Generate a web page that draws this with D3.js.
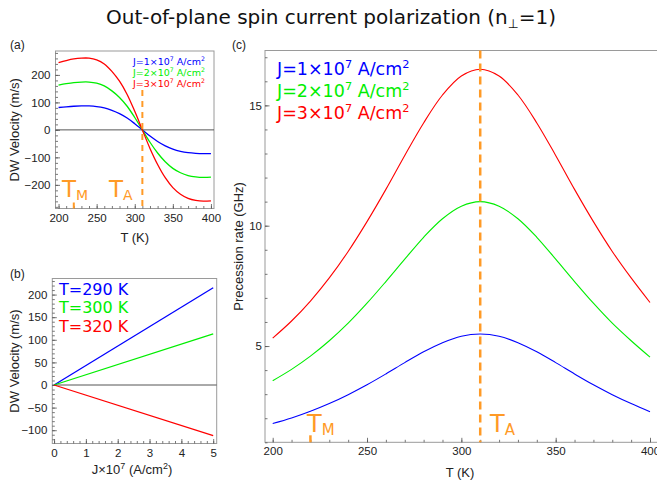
<!DOCTYPE html>
<html><head><meta charset="utf-8">
<script src="https://cdn.jsdelivr.net/npm/d3@7"></script>
<style>body{margin:0;background:#fff}svg{display:block}</style>
</head><body>
<script>
// ---------- data ----------
const temps = [200,210,220,230,240,250,260,270,280,290,300,310,320,330,340,350,360,370,380,390,400];
const velJ1 = [81.5,84,86,87,87,85,80,71,59,43,22.5,0,-22.5,-42,-58,-70,-78,-83,-85.5,-86.5,-86];
const velJ2 = [163,168,172,174,174,170,160,142,118,86,45,0,-45,-84,-116,-140,-156,-166,-171,-173,-172];
const velJ3 = [244.5,252,258,261,261,255,240,213,177,129,67.5,0,-67.5,-126,-174,-210,-234,-249,-256.5,-259.5,-258];
const currents = [0,5];
const vel290 = [0,215];
const vel300 = [0,113];
const vel320 = [0,-112];
const precJ1 = [1.78,2.01,2.29,2.61,2.98,3.39,3.84,4.31,4.76,5.14,5.41,5.50,5.41,5.14,4.76,4.31,3.84,3.39,2.98,2.61,2.27];
const precJ2 = [3.56,4.03,4.58,5.22,5.95,6.78,7.68,8.61,9.52,10.29,10.81,11.00,10.81,10.29,9.52,8.61,7.68,6.78,5.95,5.22,4.54];
const precJ3 = [5.33,6.04,6.87,7.83,8.93,10.17,11.51,12.92,14.27,15.43,16.22,16.50,16.22,15.43,14.27,12.92,11.51,10.17,8.93,7.83,6.81];
const tempTicks = [200,250,300,350,400];
const velTicksA = [-200,-100,0,100,200];
const velTicksB = [-100,-50,0,50,100,150,200];
const currentTicks = [0,1,2,3,4,5];
const precTicks = [5,10,15];
const T_M = 220, T_A = 310;
const legendJ = ["1","2","3"];
const legendT = ["290","300","320"];
const seriesColors = ["#0000ff","#00ee00","#ff0000"];

// ---------- styles ----------
const ORANGE = "#ff9a26";
const FRAME = "#9a9a9a";
const TICKFONT = "'Liberation Sans', Arial, sans-serif";
const VFONT = "'DejaVu Sans', Verdana, sans-serif";

const svg = d3.select("body").append("svg").attr("width",657).attr("height",485);

// title
const title = svg.append("text").attr("x",331).attr("y",24).attr("text-anchor","middle")
  .attr("font-family",VFONT).attr("font-size",20).attr("fill","#111");
title.append("tspan").text("Out-of-plane spin current polarization (n");
title.append("tspan").attr("font-size",12.5).attr("dy",4).text("⊥");
title.append("tspan").attr("dy",-4).text("=1)");

function frame(g, x, y, xt, xminor, yt, yminor, opts){
  const [x0,x1]=x.range(), [y0,y1]=y.range();
  g.append("rect").attr("x",x0).attr("y",y1).attr("width",x1-x0).attr("height",y0-y1)
    .attr("fill","none").attr("stroke",FRAME).attr("stroke-width",1);
  const bx = d3.axisBottom(x).tickValues(xminor).tickSize(-2.5).tickFormat("");
  const bX = d3.axisBottom(x).tickValues(xt).tickSize(-4.5).tickPadding(opts.xpad).tickFormat(opts.xfmt||d3.format("d"));
  const ly = d3.axisLeft(y).tickValues(yminor).tickSize(-2.5).tickFormat("");
  const lY = d3.axisLeft(y).tickValues(yt).tickSize(-4.5).tickPadding(opts.ypad).tickFormat(opts.yfmt||d3.format("d"));
  [[bx,`translate(0,${y0})`],[bX,`translate(0,${y0})`],[ly,`translate(${x0},0)`],[lY,`translate(${x0},0)`]].forEach(([ax,tr])=>{
    const a=g.append("g").attr("transform",tr).call(ax);
    a.select(".domain").remove();
    a.selectAll("line").attr("stroke","#555").attr("stroke-width",0.8);
    a.selectAll("text").attr("font-family",TICKFONT).attr("font-size",11.5).attr("fill","#222");
  });
}
function range(a,b,s){const r=[];for(let v=a;v<=b+1e-9;v+=s)r.push(+v.toFixed(6));return r;}

function tLabel(g, x, y, sub, size, subsize){
  const t=g.append("text").attr("x",x).attr("y",y).attr("font-family",VFONT).attr("font-size",size).attr("fill",ORANGE);
  t.append("tspan").text("T");
  t.append("tspan").attr("font-size",subsize).attr("dy",size*0.12).text(sub);
}
function legendJText(g, x, y, n, size, color){
  const t=g.append("text").attr("x",x).attr("y",y).attr("font-family",VFONT).attr("font-size",size).attr("fill",color);
  t.append("tspan").text(`J=${n}×10`);
  t.append("tspan").attr("font-size",size*0.65).attr("dy",-size*0.4).text("7");
  t.append("tspan").attr("dy",size*0.4).text(" A/cm");
  t.append("tspan").attr("font-size",size*0.65).attr("dy",-size*0.4).text("2");
}

// ---------- panel (a) ----------
{
  const g=svg.append("g");
  const x=d3.scaleLinear().domain([196,404]).range([55.5,214]);
  const y=d3.scaleLinear().domain([-286,287]).range([208.5,51]);
  frame(g,x,y,tempTicks,range(200,400,10),velTicksA,range(-280,280,20),{xpad:5,ypad:5});
  g.append("line").attr("x1",x.range()[0]).attr("x2",x.range()[1]).attr("y1",y(0)).attr("y2",y(0))
    .attr("stroke","#555").attr("stroke-width",1);
  const line=d3.line().x((d,i)=>x(temps[i])).y(d=>y(d)).curve(d3.curveCatmullRom.alpha(0.5));
  [velJ1,velJ2,velJ3].forEach((s,i)=>g.append("path").attr("d",line(s)).attr("fill","none")
    .attr("stroke",seriesColors[i]).attr("stroke-width",1.3));
  g.append("line").attr("x1",x(T_A)).attr("x2",x(T_A)).attr("y1",y(145)).attr("y2",y.range()[0])
    .attr("stroke",ORANGE).attr("stroke-width",2).attr("stroke-dasharray","6,5");
  g.append("line").attr("x1",x(T_M)).attr("x2",x(T_M)).attr("y1",y.range()[0]-6).attr("y2",y.range()[0])
    .attr("stroke",ORANGE).attr("stroke-width",2);
  tLabel(g,62,197,"M",23,14);
  tLabel(g,109,197,"A",23,14);
  legendJ.forEach((n,i)=>legendJText(g,133,65+i*11,n,9.5,seriesColors[i]));
  g.append("text").attr("x",10).attr("y",49).attr("font-family",TICKFONT).attr("font-size",12).attr("fill","#222").text("(a)");
  g.append("text").attr("x",(x.range()[0]+x.range()[1])/2).attr("y",242).attr("text-anchor","middle")
    .attr("font-family",TICKFONT).attr("font-size",13).attr("fill","#222").text("T (K)");
  g.append("text").attr("transform",`translate(19,${(y.range()[0]+y.range()[1])/2}) rotate(-90)`).attr("text-anchor","middle")
    .attr("font-family",TICKFONT).attr("font-size",13).attr("fill","#222").text("DW Velocity (m/s)");
}

// ---------- panel (b) ----------
{
  const g=svg.append("g");
  const x=d3.scaleLinear().domain([-0.055,5.11]).range([52.3,216.7]);
  const y=d3.scaleLinear().domain([-129.4,235.6]).range([443.5,278.5]);
  frame(g,x,y,currentTicks,range(0,5,0.2),velTicksB,range(-120,230,10),{xpad:5,ypad:5});
  g.append("line").attr("x1",x.range()[0]).attr("x2",x.range()[1]).attr("y1",y(0)).attr("y2",y(0))
    .attr("stroke","#555").attr("stroke-width",1);
  const line=d3.line().x((d,i)=>x(currents[i])).y(d=>y(d));
  [vel290,vel300,vel320].forEach((s,i)=>g.append("path").attr("d",line(s)).attr("fill","none")
    .attr("stroke",seriesColors[i]).attr("stroke-width",1.3));
  legendT.forEach((n,i)=>g.append("text").attr("x",59).attr("y",295+i*18.3).attr("font-family",VFONT)
    .attr("font-size",16).attr("fill",seriesColors[i]).text(`T=${n} K`));
  g.append("text").attr("x",10).attr("y",278).attr("font-family",TICKFONT).attr("font-size",12).attr("fill","#222").text("(b)");
  const xl=g.append("text").attr("x",132).attr("y",474).attr("text-anchor","middle")
    .attr("font-family",TICKFONT).attr("font-size",13).attr("fill","#222");
  xl.append("tspan").text("J×10");
  xl.append("tspan").attr("font-size",9).attr("dy",-5).text("7");
  xl.append("tspan").attr("dy",5).text(" (A/cm");
  xl.append("tspan").attr("font-size",9).attr("dy",-5).text("2");
  xl.append("tspan").attr("dy",5).text(")");
  g.append("text").attr("transform",`translate(19,${(y.range()[0]+y.range()[1])/2}) rotate(-90)`).attr("text-anchor","middle")
    .attr("font-family",TICKFONT).attr("font-size",13).attr("fill","#222").text("DW Velocity (m/s)");
}

// ---------- panel (c) ----------
{
  const g=svg.append("g");
  const x=d3.scaleLinear().domain([195.92,404.08]).range([265,657.7]);
  const y=d3.scaleLinear().domain([1.0,17.28]).range([442.3,50.5]);
  frame(g,x,y,tempTicks,range(200,400,10),precTicks,range(1,17,1),{xpad:5,ypad:3});
  const line=d3.line().x((d,i)=>x(temps[i])).y(d=>y(d)).curve(d3.curveCatmullRom.alpha(0.5));
  [precJ1,precJ2,precJ3].forEach((s,i)=>g.append("path").attr("d",line(s)).attr("fill","none")
    .attr("stroke",seriesColors[i]).attr("stroke-width",1.1));
  g.append("line").attr("x1",x(T_A)).attr("x2",x(T_A)).attr("y1",y.range()[1]).attr("y2",y.range()[0])
    .attr("stroke",ORANGE).attr("stroke-width",2.5).attr("stroke-dasharray","8,5");
  g.append("line").attr("x1",x(T_M)).attr("x2",x(T_M)).attr("y1",y.range()[0]-7).attr("y2",y.range()[0])
    .attr("stroke",ORANGE).attr("stroke-width",2.5);
  tLabel(g,307,432,"M",24,15);
  tLabel(g,490,432,"A",24,15);
  legendJ.forEach((n,i)=>legendJText(g,277,75+i*22,n,17.5,seriesColors[i]));
  g.append("text").attr("x",232).attr("y",49).attr("font-family",TICKFONT).attr("font-size",12).attr("fill","#222").text("(c)");
  g.append("text").attr("x",460).attr("y",477).attr("text-anchor","middle")
    .attr("font-family",TICKFONT).attr("font-size",13).attr("fill","#222").text("T (K)");
  g.append("text").attr("transform",`translate(243,${(y.range()[0]+y.range()[1])/2}) rotate(-90)`).attr("text-anchor","middle")
    .attr("font-family",TICKFONT).attr("font-size",13).attr("fill","#222").text("Precession rate (GHz)");
}
</script>
</body></html>
